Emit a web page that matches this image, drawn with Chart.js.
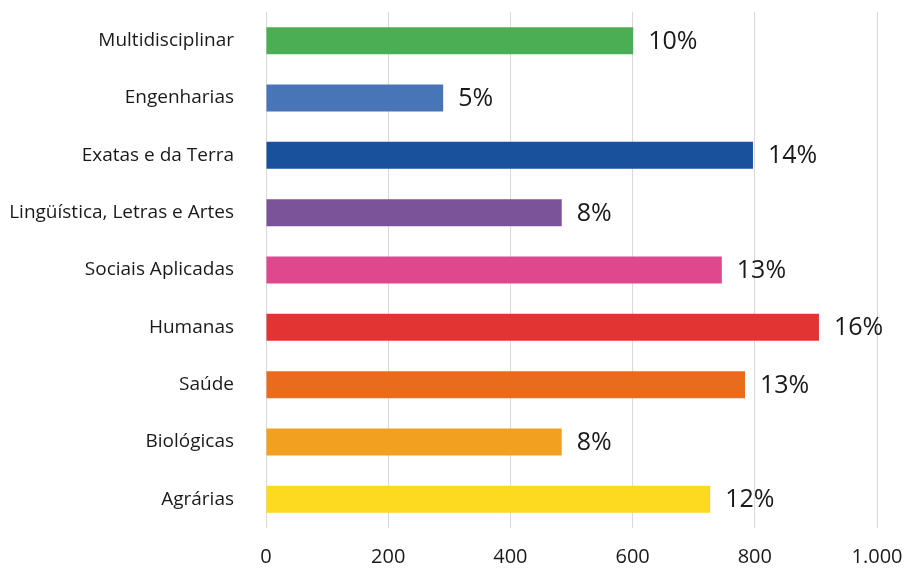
<!DOCTYPE html>
<html>
<head>
<meta charset="utf-8">
<script src="https://cdn.jsdelivr.net/npm/chart.js@4/dist/chart.umd.min.js"></script>
<style>
html,body{margin:0;padding:0;background:#fff;}
#wrap{width:905px;height:569px;position:relative;}
</style>
</head>
<body>
<div id="wrap"><canvas id="c"></canvas></div>
<script>
const categories = ["Multidisciplinar","Engenharias","Exatas e da Terra","Lingüística, Letras e Artes","Sociais Aplicadas","Humanas","Saúde","Biológicas","Agrárias"];
const values = [601, 290, 797, 484, 746, 905, 784, 484, 727];
const percentLabels = ["10%","5%","14%","8%","13%","16%","13%","8%","12%"];
const barColors = ["#4BAE55","#4775B8","#1A519C","#7B5399","#E0488E","#E23432","#E86C1B","#F1A01F","#FDD920"];
const xTicks = [0,200,400,600,800,1000];

const FONT = "'Open Sans', 'Noto Sans', sans-serif";

const valueLabelPlugin = {
  id: 'valueLabels',
  afterDatasetsDraw(chart) {
    const ctx = chart.ctx;
    const meta = chart.getDatasetMeta(0);
    ctx.save();
    ctx.font = "25px " + FONT;
    ctx.fillStyle = "#1a1a1a";
    ctx.textAlign = "left";
    ctx.textBaseline = "middle";
    meta.data.forEach((bar, i) => {
      ctx.fillText(percentLabels[i], bar.x + 15, bar.y + 1);
    });
    ctx.restore();
  }
};

new Chart(document.getElementById('c'), {
  type: 'bar',
  data: {
    labels: categories,
    datasets: [{
      data: values,
      backgroundColor: barColors,
      borderWidth: 0,
      barPercentage: 0.47,
      categoryPercentage: 1
    }]
  },
  options: {
    indexAxis: 'y',
    responsive: true,
    maintainAspectRatio: false,
    animation: false,
    layout: { padding: { top: 12, right: 28, left: 0, bottom: 0 } },
    plugins: { legend: { display: false }, tooltip: { enabled: false } },
    scales: {
      x: {
        min: 0, max: 1000,
        afterBuildTicks(scale) { scale.ticks = xTicks.map(v => ({ value: v })); },
        afterFit(scale) { scale.height = 41; scale.paddingLeft = 0; scale.paddingRight = 0; },
        grid: { color: '#d9d9d9', lineWidth: 1, drawTicks: false },
        border: { display: false },
        ticks: {
          padding: 17,
          color: '#1a1a1a',
          font: { family: FONT, size: 20 },
          callback: (v) => v.toLocaleString('pt-BR')
        }
      },
      y: {
        afterFit(scale) { scale.width = 266; scale.paddingTop = 0; scale.paddingBottom = 0; },
        grid: { display: false, drawTicks: false },
        border: { display: false },
        ticks: {
          padding: 32,
          color: '#1a1a1a',
          font: { family: FONT, size: 19 }
        }
      }
    }
  },
  plugins: [valueLabelPlugin]
});
</script>
</body>
</html>
